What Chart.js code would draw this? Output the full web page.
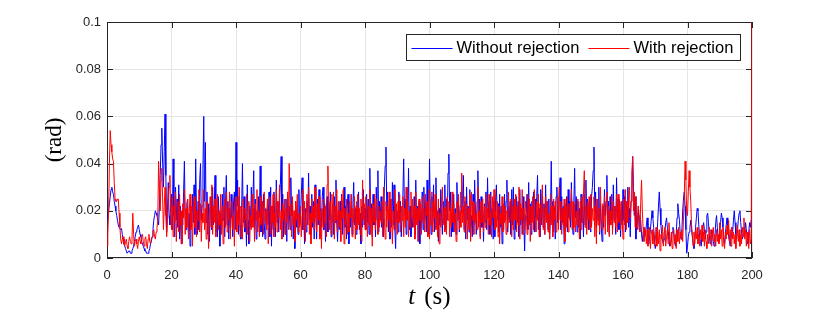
<!DOCTYPE html>
<html>
<head>
<meta charset="utf-8">
<script src="https://cdn.jsdelivr.net/npm/chart.js@4.4.0/dist/chart.umd.min.js"></script>
<style>
  body { margin: 0; background: #fff; }
  canvas { display: block; }
</style>
</head>
<body>
<canvas id="grafico" width="830" height="312"></canvas>
<script>
// sampling interval of both series (s)
const sampleStep = 0.25;

// error angle (rad), every 0.25 s (one row = 5 s)
const withoutRejection = [
  .016,.018,.020,.023,.026,.029,.030,.028,.027,.024,.022,.020,.018,.016,.014,.013,.013,.012,.0125,.010,
  .008,.006,.005,.004,.003,.002,.002,.003,.003,.002,.002,.003,.004,.005,.007,.009,.011,.012,.013,.014,
  .012,.010,.009,.007,.006,.005,.004,.003,.003,.002,.002,.002,.003,.004,.006,.007,.009,.012,.016,.018,
  .020,.019,.018,.016,.014,.022,.035,.048,.055,.040,.030,.045,.061,.035,.011,.020,.032,.018,.014,.022,
  .027,.012,.042,.018,.009,.030,.016,.025,.013,.031,.008,.022,.006,.019,.014,.028,.041,.017,.012,.023,
  .025,.011,.019,.005,.020,.013,.027,.015,.031,.010,.042,.019,.010,.024,.012,.033,.040,.016,.022,.038,
  .060,.024,.049,.015,.028,.010,.023,.007,.018,.026,.012,.030,.014,.022,.035,.011,.020,.009,.026,.016,
  .005,.019,.011,.027,.016,.030,.009,.024,.035,.014,.024,.008,.021,.013,.027,.017,.009,.024,.028,.012,
  .049,.022,.033,.010,.026,.014,.008,.021,.040,.015,.026,.011,.019,.005,.031,.016,.006,.022,.013,.030,
  .015,.026,.037,.012,.025,.008,.020,.013,.026,.017,.039,.011,.024,.009,.027,.015,.008,.021,.012,.024,
  .014,.028,.009,.030,.005,.022,.012,.028,.017,.009,.033,.015,.024,.011,.025,.031,.043,.019,.027,.009,
  .020,.010,.025,.007,.028,.014,.022,.012,.034,.018,.024,.008,.017,.004,.024,.013,.021,.010,.029,.014,
  .016,.027,.034,.012,.020,.006,.021,.011,.024,.014,.036,.016,.022,.010,.027,.013,.024,.008,.031,.019,
  .008,.025,.014,.029,.009,.021,.013,.026,.030,.012,.023,.007,.020,.026,.011,.024,.016,.028,.009,.018,
  .023,.010,.026,.015,.033,.014,.007,.020,.012,.024,.016,.027,.010,.023,.030,.013,.022,.008,.022,.027,
  .006,.021,.013,.027,.010,.023,.032,.014,.021,.010,.024,.015,.028,.012,.019,.006,.022,.013,.029,.014,
  .021,.012,.027,.015,.025,.010,.038,.018,.023,.009,.027,.014,.021,.009,.030,.016,.037,.011,.024,.016,
  .026,.013,.022,.009,.030,.039,.047,.020,.028,.011,.019,.008,.025,.013,.032,.014,.031,.012,.004,.020,
  .020,.011,.028,.016,.024,.009,.018,.027,.042,.019,.025,.010,.030,.016,.038,.012,.022,.009,.022,.013,
  .015,.026,.010,.033,.016,.022,.007,.024,.006,.019,.013,.028,.012,.030,.016,.024,.011,.033,.017,.010,
  .042,.022,.010,.026,.015,.031,.011,.024,.034,.013,.020,.007,.021,.014,.029,.017,.010,.024,.015,.031,
  .012,.025,.016,.036,.044,.020,.028,.009,.019,.011,.027,.014,.021,.010,.032,.016,.023,.011,.022,.028,
  .019,.025,.035,.012,.024,.008,.030,.016,.022,.011,.029,.013,.018,.009,.027,.014,.033,.020,.010,.024,
  .037,.016,.025,.009,.026,.013,.020,.007,.023,.015,.028,.012,.034,.017,.024,.010,.028,.014,.021,.008,
  .024,.009,.025,.031,.016,.023,.011,.027,.013,.022,.006,.021,.012,.027,.016,.024,.033,.011,.022,.016,
  .024,.010,.029,.014,.030,.008,.022,.012,.026,.015,.024,.009,.029,.014,.021,.010,.026,.015,.003,.018,
  .019,.027,.012,.032,.014,.023,.010,.024,.016,.028,.011,.025,.017,.026,.035,.012,.021,.009,.029,.014,
  .027,.013,.023,.010,.031,.016,.024,.012,.025,.008,.018,.041,.016,.024,.011,.022,.008,.026,.030,.015,
  .019,.028,.034,.012,.026,.015,.022,.006,.023,.014,.026,.011,.029,.017,.024,.013,.032,.016,.010,.023,
  .038,.017,.026,.011,.024,.013,.021,.008,.027,.015,.022,.009,.027,.014,.033,.016,.025,.012,.024,.016,
  .011,.026,.030,.037,.047,.019,.028,.013,.025,.016,.030,.010,.023,.014,.007,.022,.013,.029,.018,.024,
  .035,.014,.024,.010,.026,.016,.027,.012,.031,.016,.022,.010,.034,.017,.025,.012,.024,.009,.022,.014,
  .029,.016,.026,.011,.024,.015,.030,.013,.021,.009,.024,.028,.043,.030,.018,.026,.008,.019,.014,.022,
  .012,.017,.016,.010,.007,.011,.013,.009,.010,.014,.017,.012,.006,.009,.012,.016,.020,.017,.013,.008,
  .004,.006,.009,.015,.022,.028,.021,.014,.010,.007,.006,.008,.012,.015,.017,.013,.011,.008,.005,.006,
  .008,.011,.013,.010,.007,.005,.010,.017,.023,.019,.016,.010,.008,.011,.020,.025,.028,.022,.012,.002,
  .005,.009,.011,.013,.016,.012,.009,.006,.004,.008,.013,.017,.021,.020,.014,.009,.007,.005,.010,.013,
  .015,.012,.008,.011,.018,.019,.015,.010,.006,.008,.012,.010,.007,.005,.009,.015,.018,.013,.008,.007,
  .011,.015,.019,.017,.013,.008,.006,.010,.014,.017,.012,.009,.007,.005,.009,.013,.011,.016,.020,.015,
  .010,.008,.012,.016,.019,.020,.015,.011,.008,.010,.013,.011,.015,.012,.009,.006,.011,.015,.013,.016,
  .017
];

const withRejection = [
  .005,.010,.020,.040,.054,.048,.045,.042,.041,.032,.025,.024,.024,.025,.025,.019,.013,.008,.006,.008,
  .009,.006,.005,.007,.008,.005,.004,.007,.009,.007,.006,.008,.019,.010,.005,.007,.008,.006,.004,.007,
  .009,.007,.006,.009,.010,.007,.005,.008,.009,.006,.004,.008,.010,.007,.006,.008,.009,.011,.012,.009,
  .008,.011,.013,.016,.041,.030,.020,.033,.038,.025,.012,.022,.030,.018,.009,.016,.024,.030,.035,.020,
  .012,.026,.009,.022,.015,.028,.007,.019,.024,.011,.027,.014,.020,.006,.023,.017,.029,.010,.021,.013,
  .025,.008,.019,.027,.012,.022,.005,.018,.026,.013,.024,.009,.020,.016,.029,.011,.023,.007,.019,.015,
  .029,.012,.021,.008,.024,.017,.004,.019,.026,.013,.031,.010,.022,.015,.025,.009,.018,.027,.012,.020,
  .014,.027,.010,.022,.006,.019,.025,.013,.028,.011,.021,.016,.028,.008,.020,.024,.012,.018,.005,.023,
  .026,.011,.020,.014,.030,.009,.022,.017,.008,.025,.013,.021,.016,.027,.010,.019,.024,.007,.018,.012,
  .027,.013,.021,.007,.023,.016,.029,.011,.020,.009,.026,.014,.018,.024,.010,.028,.015,.020,.012,.025,
  .006,.020,.026,.010,.022,.015,.027,.009,.019,.013,.029,.011,.024,.017,.031,.012,.020,.008,.023,.016,
  .025,.010,.021,.015,.028,.012,.040,.018,.023,.009,.026,.014,.020,.007,.024,.016,.027,.011,.019,.013,
  .022,.009,.018,.029,.012,.024,.007,.020,.027,.014,.030,.010,.019,.006,.025,.015,.022,.012,.030,.017,
  .011,.023,.016,.026,.008,.020,.004,.021,.013,.025,.015,.022,.009,.031,.039,.018,.012,.024,.010,.027,
  .015,.028,.008,.022,.016,.029,.011,.024,.013,.020,.007,.026,.017,.029,.006,.021,.014,.025,.010,.019,
  .011,.024,.017,.027,.009,.021,.015,.026,.008,.022,.012,.027,.014,.021,.010,.025,.007,.033,.016,.023,
  .012,.026,.018,.009,.022,.014,.029,.010,.021,.005,.023,.015,.027,.012,.025,.016,.010,.022,.013,.020,
  .015,.024,.009,.030,.017,.008,.024,.013,.022,.016,.028,.011,.025,.017,.006,.020,.012,.029,.015,.023,
  .010,.024,.015,.027,.011,.022,.016,.026,.009,.021,.013,.030,.016,.024,.009,.020,.013,.028,.017,.025,
  .013,.022,.008,.028,.014,.021,.007,.025,.016,.023,.010,.026,.015,.021,.011,.027,.018,.024,.009,.029,
  .008,.021,.014,.028,.011,.024,.017,.027,.012,.020,.009,.025,.006,.019,.013,.024,.030,.014,.021,.011,
  .022,.010,.026,.016,.024,.009,.021,.013,.028,.015,.023,.011,.019,.007,.024,.016,.027,.012,.020,.013,
  .036,.015,.022,.011,.026,.014,.023,.008,.021,.012,.027,.007,.028,.016,.024,.010,.023,.015,.019,.012,
  .030,.013,.020,.008,.024,.015,.025,.011,.022,.013,.027,.016,.021,.010,.027,.014,.019,.009,.026,.017,
  .029,.012,.020,.013,.024,.009,.022,.006,.019,.014,.026,.011,.023,.015,.022,.010,.020,.013,.028,.015,
  .017,.025,.009,.022,.012,.025,.016,.027,.011,.022,.014,.030,.008,.023,.016,.029,.010,.021,.012,.024,
  .020,.010,.027,.014,.025,.007,.022,.015,.026,.012,.029,.017,.011,.024,.016,.027,.009,.023,.014,.021,
  .031,.012,.021,.010,.026,.015,.024,.011,.019,.008,.027,.014,.022,.009,.025,.016,.024,.011,.018,.026,
  .012,.030,.016,.024,.010,.021,.014,.025,.007,.022,.013,.026,.011,.023,.016,.021,.029,.012,.024,.013,
  .023,.011,.020,.014,.025,.016,.008,.024,.012,.026,.015,.028,.037,.013,.022,.010,.024,.016,.026,.012,
  .027,.013,.021,.016,.026,.009,.022,.006,.025,.014,.021,.011,.030,.017,.012,.023,.015,.026,.010,.022,
  .028,.011,.022,.009,.020,.014,.026,.010,.024,.015,.022,.013,.027,.011,.027,.015,.023,.012,.024,.016,
  .008,.025,.014,.029,.012,.024,.015,.026,.030,.017,.024,.036,.043,.020,.028,.013,.026,.016,.012,.022,
  .018,.011,.024,.033,.020,.012,.007,.013,.011,.006,.012,.005,.009,.013,.004,.010,.012,.006,.011,.005,
  .007,.013,.005,.011,.006,.012,.003,.010,.008,.014,.005,.011,.013,.005,.009,.012,.006,.015,.009,.005,
  .011,.004,.009,.012,.006,.010,.004,.012,.007,.013,.006,.011,.008,.012,.007,.016,.026,.041,.033,.020,
  .018,.028,.037,.030,.024,.014,.010,.005,.011,.006,.012,.008,.013,.006,.010,.005,.012,.008,.014,.007,
  .011,.005,.012,.007,.004,.010,.006,.013,.008,.012,.005,.011,.013,.007,.010,.005,.012,.007,.010,.006,
  .015,.008,.012,.005,.013,.007,.004,.011,.008,.014,.010,.016,.007,.012,.005,.013,.008,.011,.006,.010,
  .004,.011,.014,.007,.012,.005,.010,.006,.013,.009,.017,.008,.012,.005,.011,.007,.004,.012,.006,.008,
  .100
];

const xTicks = [0, 20, 40, 60, 80, 100, 120, 140, 160, 180, 200];
const yTicks = [0, 0.02, 0.04, 0.06, 0.08, 0.1];
const seriesNames = ["Without rejection", "With rejection"];
const seriesColors = ["#0000ff", "#ff0000"];

const axisColor = "#262626";
const tickFont = { family: "'Liberation Sans', Arial, sans-serif", size: 13 };

function toPoints(values) {
  return values.map((v, i) => ({ x: i * sampleStep, y: v }));
}

// box and inward ticks go under the lines, t (s) label and legend on top
const matlabBox = {
  id: "matlabBox",
  beforeDatasetsDraw(chart) {
    const { ctx, chartArea: a, scales } = chart;
    ctx.save();
    ctx.strokeStyle = axisColor;
    ctx.lineWidth = 1;
    ctx.strokeRect(a.left + 0.5, a.top + 0.5, a.right - a.left - 1, a.bottom - a.top - 1);

    const len = 6;
    ctx.beginPath();
    xTicks.forEach((v) => {
      const px = Math.round(scales.x.getPixelForValue(v)) + 0.5;
      ctx.moveTo(px, a.bottom);
      ctx.lineTo(px, a.bottom - len);
      ctx.moveTo(px, a.top);
      ctx.lineTo(px, a.top + len);
    });
    yTicks.forEach((v) => {
      const py = Math.round(scales.y.getPixelForValue(v)) + 0.5;
      ctx.moveTo(a.left, py);
      ctx.lineTo(a.left + len, py);
      ctx.moveTo(a.right, py);
      ctx.lineTo(a.right - len, py);
    });
    ctx.stroke();
    ctx.restore();
  },
  afterDraw(chart) {
    const { ctx, chartArea: a } = chart;
    ctx.save();
    // x title: italic t, upright (s)
    ctx.fillStyle = "#000";
    ctx.textBaseline = "middle";
    ctx.textAlign = "left";
    const fItalic = "italic 25px 'Liberation Serif', 'Times New Roman', serif";
    const fUp = "25px 'Liberation Serif', 'Times New Roman', serif";
    ctx.font = fItalic;
    const wT = ctx.measureText("t").width;
    ctx.font = fUp;
    const wS = ctx.measureText("(s)").width;
    const gap = 9;
    const cx = (a.left + a.right) / 2;
    const ty = a.bottom + 39;
    const x0 = cx - (wT + gap + wS) / 2;
    ctx.font = fItalic;
    ctx.fillText("t", x0, ty);
    ctx.font = fUp;
    ctx.fillText("(s)", x0 + wT + gap, ty);

    // legend
    ctx.font = "16.5px 'Liberation Sans', Arial, sans-serif";
    const lineLen = 41, pad = 5, gapText = 4, gapEntry = 9;
    const widths = seriesNames.map((n) => ctx.measureText(n).width);
    let boxW = pad;
    widths.forEach((w, i) => { boxW += lineLen + gapText + w + (i < widths.length - 1 ? gapEntry : 7); });
    boxW = Math.round(boxW);
    const boxH = 26;
    const bx = Math.round(a.right - 12 - boxW) + 0.5;
    const by = a.top + 12.5;
    ctx.fillStyle = "#fff";
    ctx.fillRect(bx, by, boxW, boxH);
    ctx.strokeStyle = axisColor;
    ctx.lineWidth = 1;
    ctx.strokeRect(bx, by, boxW, boxH);
    let lx = bx + pad;
    const ly = by + boxH / 2;
    seriesNames.forEach((n, i) => {
      ctx.strokeStyle = seriesColors[i];
      ctx.beginPath();
      ctx.moveTo(lx, Math.round(ly) + 0.5);
      ctx.lineTo(lx + lineLen, Math.round(ly) + 0.5);
      ctx.stroke();
      ctx.fillStyle = "#000";
      ctx.fillText(n, lx + lineLen + gapText, ly + 1);
      lx += lineLen + gapText + widths[i] + gapEntry;
    });
    ctx.restore();
  },
};

const ctx = document.getElementById("grafico").getContext("2d");
new Chart(ctx, {
  type: "line",
  data: {
    datasets: [
      {
        label: seriesNames[0],
        data: toPoints(withoutRejection),
        borderColor: seriesColors[0],
        borderWidth: 1,
        pointRadius: 0,
        tension: 0,
        order: 2,
      },
      {
        label: seriesNames[1],
        data: toPoints(withRejection),
        borderColor: seriesColors[1],
        borderWidth: 1,
        pointRadius: 0,
        tension: 0,
        order: 1,
      },
    ],
  },
  options: {
    responsive: false,
    animation: false,
    devicePixelRatio: 1,
    layout: { padding: { left: 0, right: 78, top: 22, bottom: 0 } },
    plugins: {
      legend: { display: false },
      tooltip: { enabled: false },
    },
    scales: {
      x: {
        type: "linear",
        min: 0,
        max: 200,
        afterBuildTicks: (scale) => { scale.ticks = xTicks.map((v) => ({ value: v })); },
        afterFit: (scale) => { scale.height = 54; },
        grid: { color: "#e4e4e4", drawTicks: false },
        border: { display: false },
        ticks: { color: axisColor, font: tickFont, padding: 10, maxRotation: 0, autoSkip: false },
      },
      y: {
        min: 0,
        max: 0.1,
        afterBuildTicks: (scale) => { scale.ticks = yTicks.map((v) => ({ value: v })); },
        afterFit: (scale) => { scale.width = 107; },
        grid: { color: "#e4e4e4", drawTicks: false },
        border: { display: false },
        ticks: {
          color: axisColor,
          font: tickFont,
          padding: 6,
          callback: (v) => String(v),
        },
        title: {
          display: true,
          text: "(rad)",
          color: "#000",
          font: { family: "'Liberation Serif', 'Times New Roman', serif", size: 23 },
          padding: { top: 41, bottom: 0 },
        },
      },
    },
  },
  plugins: [matlabBox],
});
</script>
</body>
</html>
